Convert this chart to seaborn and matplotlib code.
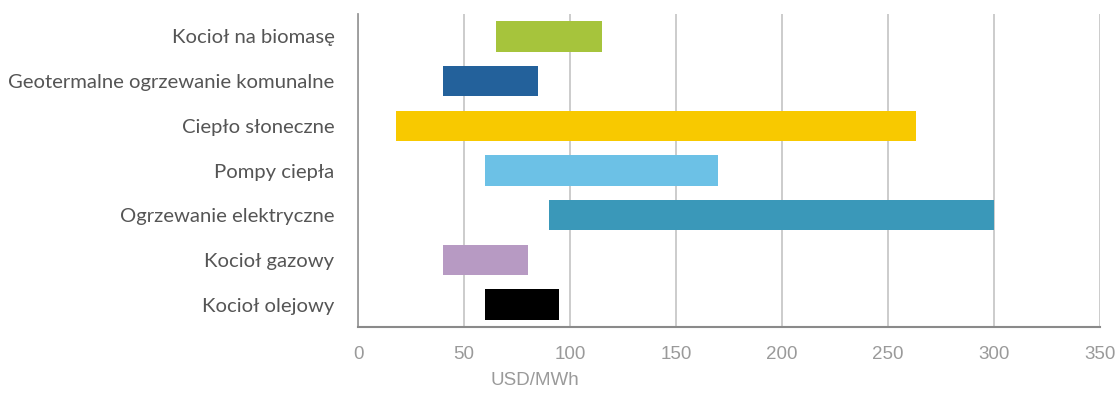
import matplotlib
matplotlib.use("Agg")
import matplotlib.pyplot as plt
import seaborn as sns
import pandas as pd

categories = ["Kocioł na biomasę", "Geotermalne ogrzewanie komunalne", "Ciepło słoneczne",
              "Pompy ciepła", "Ogrzewanie elektryczne", "Kocioł gazowy", "Kocioł olejowy"]
low = [65, 40, 18, 60, 90, 40, 60]
high = [115, 85, 263, 170, 300, 80, 95]
colors = ["#A6C43C", "#23619B", "#F8C900", "#6CC1E6", "#3A98B9", "#B79AC3", "#000000"]
xticks = [0, 50, 100, 150, 200, 250, 300, 350]

df = pd.DataFrame({"cat": categories, "low": low, "high": high})
df["span"] = df["high"] - df["low"]

sns.set_style("white")
fig = plt.figure(figsize=(11.2, 3.94), dpi=100)
ax = fig.add_axes([358/1120, 1 - 327/394, 742/1120, 313/394])

sns.barplot(data=df, y="cat", x="span", hue="cat", palette=colors, legend=False,
            orient="h", width=0.68, saturation=1, ax=ax, zorder=3,
            edgecolor="none", linewidth=0)

# shift each floating bar to start at its low value
for p in ax.patches:
    idx = int(round(p.get_y() + p.get_height() / 2))
    p.set_x(df["low"].iloc[idx])

ax.set_xlim(0, 350)
ax.set_ylim(6.5, -0.5)
ax.set_xticks(xticks)
ax.set_xticklabels([str(t) for t in xticks], family="Liberation Sans",
                   fontsize=13.5, color="#9a9a9a")
ax.set_yticks(range(len(categories)))
ax.set_yticklabels(categories, family="Lato", fontsize=14.6, color="#555555")
ax.tick_params(axis="x", length=0, pad=14)
ax.tick_params(axis="y", length=0, pad=17)
ax.xaxis.grid(True, color="#c8c8c8", linewidth=1.3, zorder=0)
ax.yaxis.grid(False)
ax.set_axisbelow(True)
for s in ["top", "right"]:
    ax.spines[s].set_visible(False)
ax.spines["left"].set_color("#9a9a9a")
ax.spines["left"].set_linewidth(1.3)
ax.spines["bottom"].set_color("#8a8a8a")
ax.spines["bottom"].set_linewidth(1.5)
ax.set_ylabel("")
ax.set_xlabel("USD/MWh", family="Liberation Sans", fontsize=13.5, color="#9a9a9a")
ax.xaxis.set_label_coords(0.238, -0.145)

fig.savefig("out.png", dpi=100, facecolor="white")
